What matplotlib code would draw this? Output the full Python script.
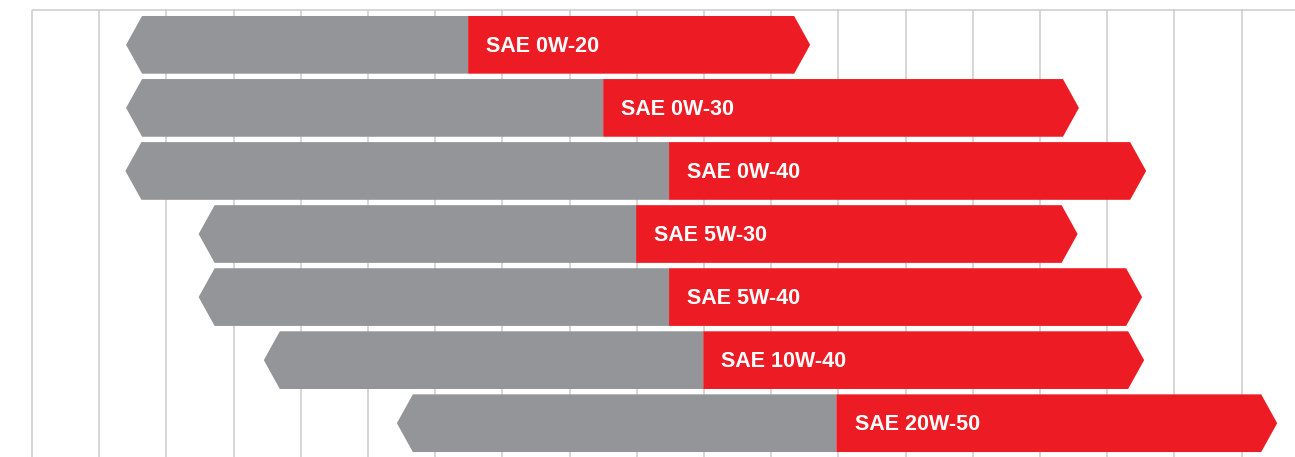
#!/usr/bin/env python
"""Chevron range chart of SAE oil grades (gray = cold side, red = hot side)."""
import matplotlib
matplotlib.use("Agg")
import matplotlib.pyplot as plt
import numpy as np

# grade, left end, gray/red split, right end  (in grid-column units)
grades = ["SAE 0W-20", "SAE 0W-30", "SAE 0W-40", "SAE 5W-30",
          "SAE 5W-40", "SAE 10W-40", "SAE 20W-50"]
low   = [1.40, 1.40, 1.39, 2.48, 2.48, 3.45, 5.43]
split = [6.49, 8.50, 9.48, 8.99, 9.48, 9.99, 11.97]
high  = [11.58, 15.58, 16.58, 15.56, 16.52, 16.55, 18.53]
n_grid = 19

GRAY = "#939598"
RED = "#ed1c24"
GRID = "#cbcbcb"

fig = plt.figure(figsize=(12.95, 4.57), dpi=100)
ax = fig.add_axes([0, 0, 1, 1])
ax.set_xlim(-0.476, 18.795)
ax.set_ylim(6.536, -0.711)
ax.axis("off")

# grid
top = -0.553
ax.vlines(np.arange(n_grid), top, 6.6, color=GRID, lw=1.1, zorder=0)
ax.hlines(top, 0, 18.9, color=GRID, lw=1.1, zorder=0)

d = 0.238   # chevron depth (x units)
h = 0.4575  # half bar height (y units)
for i, (lab, lo, s, hi) in enumerate(zip(grades, low, split, high)):
    ax.fill([lo, lo + d, s, s, lo + d], [i, i - h, i - h, i + h, i + h],
            color=GRAY, lw=0, zorder=2)
    ax.fill([s, hi - d, hi, hi - d, s], [i - h, i - h, i, i + h, i + h],
            color=RED, lw=0, zorder=2)
    ax.text(s + 0.27, i + 0.115, lab, color="white", fontsize=15.5,
            fontweight="bold", ha="left", va="baseline",
            family=["Liberation Sans", "DejaVu Sans"], zorder=3)

fig.savefig("out.png", dpi=100)
